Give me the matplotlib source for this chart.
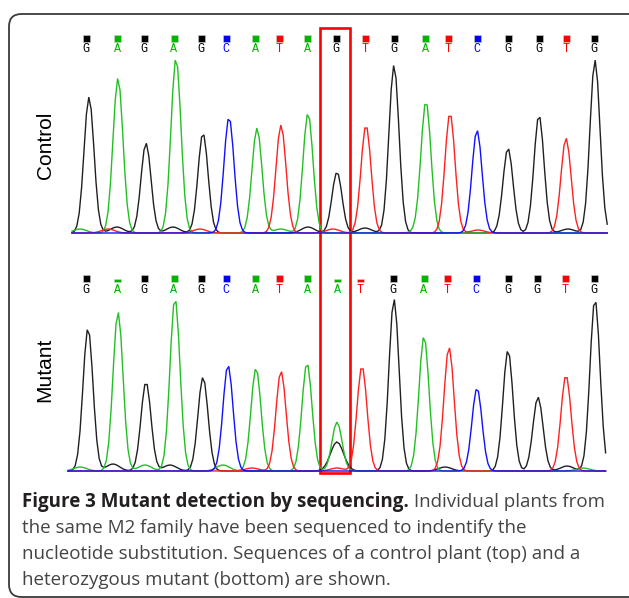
import matplotlib
matplotlib.use('Agg')
import matplotlib.pyplot as plt
import numpy as np
from matplotlib.patches import FancyBboxPatch
from matplotlib.transforms import blended_transform_factory

# ---------------- data ----------------
control_bases = list("GAGAGCATAGTGATCGGTG")
control_calls = [86, 117, 144, 174, 201, 226, 255, 279, 307, 336, 365, 394, 425, 448, 477, 508, 539, 566, 594]
control_peaks = [89, 118, 146, 176, 203, 229, 257, 281, 308, 337, 366, 394, 426, 450, 477, 508, 539, 566, 595]
control_heights = [136, 155, 90, 175, 100, 116, 105, 108, 120, 61, 108, 168, 130, 120, 103, 85, 118, 95, 173]
control_quality = [7] * 19
control_minor = [("G", 117, 6), ("G", 173, 6), ("T", 108, 4), ("T", 200, 4), ("G", 308, 6),
                 ("G", 365, 5), ("T", 333, 4), ("A", 281, 4), ("T", 478, 3), ("G", 568, 4),
                 ("A", 80, 4), ("A", 420, 3)]

mutant_bases = list("GAGAGCATAATGATCGGTG")
mutant_calls = [86, 117, 144, 174, 201, 226, 255, 279, 307, 337, 360, 393, 424, 447, 476, 508, 537, 565, 594]
mutant_peaks = [88, 118, 146, 175, 203, 228, 256, 281, 307, 337, 362, 394, 424, 449, 477, 508, 538, 566, 595]
mutant_heights = [143, 159, 89, 173, 94, 106, 103, 100, 108, 49, 105, 172, 135, 124, 83, 121, 74, 96, 172]
mutant_quality = [7, 3, 7, 7, 7, 7, 7, 7, 7, 3, 3, 7, 7, 7, 7, 7, 7, 7, 7]
mutant_minor = [("G", 337, 29), ("G", 113, 7), ("G", 170, 6), ("A", 80, 4), ("A", 145, 6),
                ("A", 223, 6), ("T", 252, 3), ("T", 337, 3), ("G", 445, 4), ("G", 567, 5),
                ("A", 583, 3)]

base_colors = {"A": "#00b400", "C": "#0000ff", "G": "#000000", "T": "#ff0000"}
trace_colors = {"A": "#22c022", "C": "#1010ff", "G": "#202020", "T": "#ff2020"}

caption_bold = "Figure 3 Mutant detection by sequencing."
caption_rest = [" Individual plants from",
                "the same M2 family have been sequenced to indentify the",
                "nucleotide substitution. Sequences of a control plant (top) and a",
                "heterozygous mutant (bottom) are shown."]

# ---------------- figure ----------------
W, H = 629, 598
fig = plt.figure(figsize=(W / 100, H / 100), dpi=100)


def fy(p):
    return 1 - p / H


def panel(top, bottom, baseline, x0, x1, bases, calls, peaks, heights, quality, minor,
          sq_y, txt_y):
    ax = fig.add_axes([0, fy(bottom), 1, (bottom - top) / H])
    ax.set_xlim(0, W)
    ax.set_ylim(-(bottom - baseline), baseline - top)
    ax.axis('off')
    xs = np.arange(x0, x1, 2.4)
    sigma = 5.0
    for ch in ["G", "A", "T", "C"]:
        sig = np.zeros_like(xs)
        for b, p, h in zip(bases, peaks, heights):
            if b == ch:
                sig += h * np.exp(-0.5 * ((xs - p) / sigma) ** 2)
        for b, p, h in minor:
            if b == ch:
                sig += h * np.exp(-0.5 * ((xs - p) / (sigma * 1.3)) ** 2)
        ax.plot(xs, sig, color=trace_colors[ch], lw=1.0, solid_joinstyle='miter')
    cols = [base_colors[b] for b in bases]
    ax.bar(calls, quality, bottom=sq_y - 3.5, width=7, color=cols, edgecolor='#d0d0d0', linewidth=0.4)
    for b, c in zip(bases, calls):
        ax.text(c, txt_y, b, color=base_colors[b], ha='center', va='center',
                fontsize=8.5, family='Liberation Mono')
    return ax


ax1 = panel(25, 240, 233, 72, 608, control_bases, control_calls, control_peaks,
            control_heights, control_quality, control_minor, 195, 184)
ax2 = panel(265, 478, 471, 68, 608, mutant_bases, mutant_calls, mutant_peaks,
            mutant_heights, mutant_quality, mutant_minor, 193, 181)

# red box around the mutated position
tr = blended_transform_factory(ax1.transData, fig.transFigure)
ax1.add_patch(plt.Rectangle((320, fy(473)), 30, (473 - 28) / H, transform=tr,
                            fill=False, edgecolor='#ff0000', lw=1.9, clip_on=False))

fig.text(45 / W, fy(145), "Control", rotation=90, ha='center', va='center',
         fontsize=15, family='Liberation Sans')
fig.text(45 / W, fy(370), "Mutant", rotation=90, ha='center', va='center',
         fontsize=15, family='Liberation Sans')

# outer rounded frame
fig.patches.append(FancyBboxPatch((9 / W, fy(597)), (650 - 9) / W, (597 - 14) / H,
                                  boxstyle="round,pad=0,rounding_size=0.02",
                                  transform=fig.transFigure, fill=False,
                                  edgecolor='#3a3a3a', lw=1.3, mutation_aspect=W / H))

# caption
fs = 13.5
t1 = fig.text(22 / W, fy(507), caption_bold, fontsize=fs, fontweight='bold',
              family='Open Sans', color='#231f20', va='baseline')
fig.canvas.draw()
bb = t1.get_window_extent()
fig.text(bb.x1 / W, fy(507), caption_rest[0], fontsize=fs, family='Open Sans',
         color='#444444', va='baseline')
for i, line in enumerate(caption_rest[1:]):
    fig.text(22 / W, fy(507 + 26 * (i + 1)), line, fontsize=fs, family='Open Sans',
             color='#444444', va='baseline')

fig.savefig("out.png", dpi=100)
